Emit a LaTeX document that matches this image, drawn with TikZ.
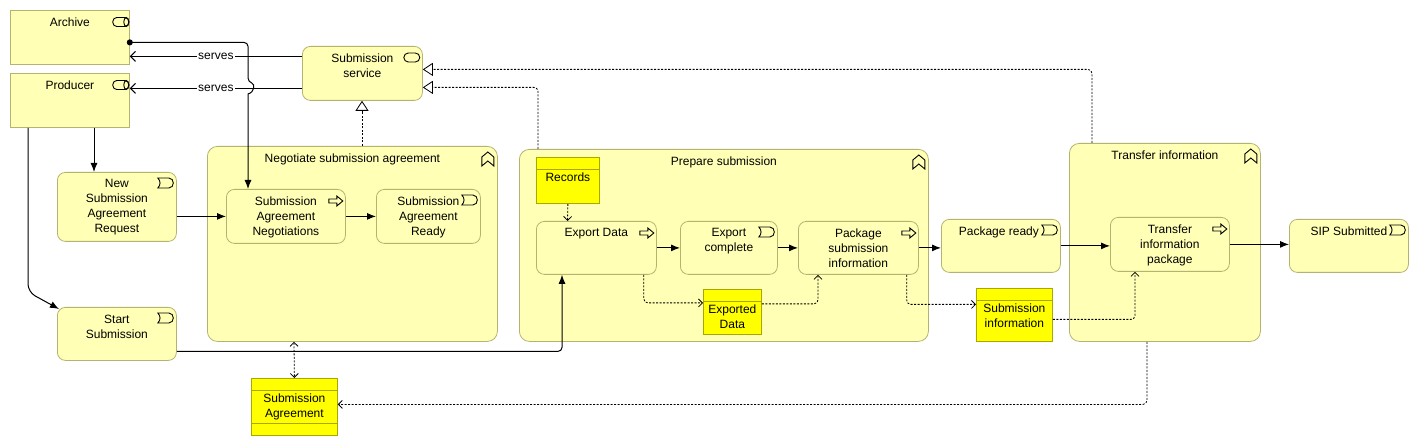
\documentclass[tikz,border=0pt]{standalone}
\usepackage{fontspec}
\setmainfont{Liberation Sans}
\usetikzlibrary{arrows.meta}

\definecolor{bizfill}{RGB}{255,255,181}
\definecolor{bizline}{RGB}{180,180,112}
\definecolor{datafill}{RGB}{255,255,0}
\definecolor{dataline}{RGB}{168,168,0}

\tikzset{
  elem/.style={draw=bizline, fill=bizfill, line width=0.8pt, anchor=north west, inner sep=0pt},
  rolebox/.style={elem},
  roundbox/.style={elem, rounded corners=8pt},
  groupbox/.style={elem, rounded corners=10pt},
  databox/.style={draw=dataline, fill=datafill, line width=0.8pt, anchor=north west, inner sep=0pt},
  lbl/.style={anchor=north, align=center, inner sep=0pt, yshift=-7.5pt, font=\fontsize{12}{15}\selectfont},
  datalbl/.style={lbl, yshift=-8pt},
  servlbl/.style={fill=white, inner sep=1pt, font=\fontsize{12}{14}\selectfont},
  trig/.style={line width=1pt, -{Latex[length=9pt,width=7pt]}},
  serv/.style={line width=1pt, -{Straight Barb[length=5pt,width=10pt]}},
  assign/.style={line width=1pt, {Circle[length=6pt]}-{Latex[length=9pt,width=7pt]}},
  acc/.style={line width=0.8pt, dash pattern=on 2pt off 1.5pt, -{Straight Barb[length=4pt,width=8pt]}},
  real/.style={line width=0.8pt, dash pattern=on 2pt off 1.5pt, -{Triangle[open,length=10pt,width=13pt]}},
  icon/.style={line width=0.9pt, draw=black},
  roleicon/.pic={\draw[icon, rounded corners=4pt] (-8,-4.5) rectangle (8,4.5);
                 \draw[icon] (5.5,0) ellipse (2.5pt and 4.5pt);},
  svcicon/.pic={\draw[icon, rounded corners=4.5pt] (-8,-4.5) rectangle (8,4.5);},
  evicon/.pic={\draw[icon] (-8,-5) -- (3,-5) .. controls (9,-5) and (9,5) .. (3,5) -- (-8,5)
                 .. controls (-5,2) and (-5,-2) .. (-8,-5) -- cycle;},
  procicon/.pic={\draw[icon] (-7,-2) -- (1,-2) -- (1,-5) -- (7,0) -- (1,5) -- (1,2) -- (-7,2) -- cycle;},
  funicon/.pic={\draw[icon] (-6,7) -- (-6,-2) -- (0,-7) -- (6,-2) -- (6,7) -- (0,2) -- cycle;}
}

\begin{document}
\begin{tikzpicture}[x=1pt, y=-1pt]
  \fill[white] (0,0) rectangle (1419,446);
  \useasboundingbox (0,0) rectangle (1419,446);

  % 分组
  \node[groupbox, minimum width=290pt, minimum height=195pt, label={[lbl]north:Negotiate submission agreement}] (neg) at (207,146) {};
  \node[groupbox, minimum width=409pt, minimum height=192pt, label={[lbl]north:Prepare submission}] (prep) at (519,149) {};
  \node[groupbox, minimum width=191pt, minimum height=198pt, label={[lbl]north:Transfer information}] (tra) at (1069,143) {};

  % 角色与服务
  \node[rolebox, minimum width=119pt, minimum height=54pt, label={[lbl]north:Archive}] (arch) at (10,10) {};
  \node[rolebox, minimum width=119pt, minimum height=54pt, label={[lbl]north:Producer}] (prod) at (10,73) {};
  \node[roundbox, minimum width=120pt, minimum height=54pt, label={[lbl]north:Submission\\service}] (svc) at (302,46) {};

  % 事件与过程
  \node[roundbox, minimum width=119pt, minimum height=69pt, label={[lbl]north:New\\Submission\\Agreement\\Request}] (nsar) at (57,172) {};
  \node[roundbox, minimum width=119pt, minimum height=54pt, label={[lbl]north:Submission\\Agreement\\Negotiations}] (san) at (226,189) {};
  \node[roundbox, minimum width=104pt, minimum height=54pt, label={[lbl]north:Submission\\Agreement\\Ready}] (sar) at (376,189) {};
  \node[roundbox, minimum width=119pt, minimum height=53pt, label={[lbl]north:Start\\Submission}] (start) at (57,307) {};
  \node[roundbox, minimum width=120pt, minimum height=53pt, label={[lbl]north:Export Data}] (exp) at (536,221) {};
  \node[roundbox, minimum width=97pt, minimum height=53pt, label={[lbl]north:Export\\complete}] (expc) at (680,221) {};
  \node[roundbox, minimum width=120pt, minimum height=53pt, label={[lbl]north:Package\\submission\\information}] (pkg) at (798,221) {};
  \node[roundbox, minimum width=119pt, minimum height=53pt, label={[lbl, xshift=-2pt]north:Package ready}] (pr) at (941,219) {};
  \node[roundbox, minimum width=119pt, minimum height=54pt, label={[lbl]north:Transfer\\information\\package}] (tpk) at (1110,217) {};
  \node[roundbox, minimum width=119pt, minimum height=53pt, label={[lbl]north:SIP Submitted}] (sip) at (1289,219) {};

  % 数据对象
  \node[databox, minimum width=86pt, minimum height=57pt, label={[datalbl]north:Submission\\Agreement}] (sa) at (251,378) {};
  \node[databox, minimum width=63pt, minimum height=46pt, label={[datalbl]north:Records}] (rec) at (536,157) {};
  \node[databox, minimum width=58pt, minimum height=45pt, label={[datalbl]north:Exported\\Data}] (exd) at (703,289) {};
  \node[databox, minimum width=76pt, minimum height=53pt, label={[datalbl]north:Submission\\information}] (sinf) at (976,288) {};
  \foreach \n in {sa,rec,exd,sinf}
    \draw[dataline, line width=0.8pt] ([yshift=-12pt]\n.north west) -- ([yshift=-12pt]\n.north east);
  \draw[dataline, line width=0.8pt] ([yshift=12pt]sa.south west) -- ([yshift=12pt]sa.south east);

  % 图标
  \foreach \n in {arch,prod}
    \pic at ([shift={(-9,12)}]\n.north east) {roleicon};
  \pic at ([shift={(-11,11.5)}]svc.north east) {svcicon};
  \foreach \n in {nsar,sar,start,expc,pr,sip}
    \pic at ([shift={(-11,11)}]\n.north east) {evicon};
  \foreach \n in {san,exp,pkg,tpk}
    \pic at ([shift={(-10,12)}]\n.north east) {procicon};
  \foreach \n in {neg,prep,tra}
    \pic at ([shift={(-10,13)}]\n.north east) {funicon};

  % 连线
  \draw[serv] ([yshift=17pt]svc.west) -- node[servlbl] (sv1) {serves} ([yshift=-19pt]arch.east);
  \draw[serv] ([yshift=-15pt]svc.west) -- node[servlbl] (sv2) {serves} ([yshift=12pt]prod.east);
  \draw[assign, rounded corners=4pt] ([xshift=-3pt,yshift=-5pt]arch.east) -| (248,82)
    [sharp corners] .. controls (255,84) and (255,92) .. (248,94) -- ([xshift=22pt]san.north west);
  \draw[trig] ([xshift=84pt]prod.south west) -- ([xshift=37pt]nsar.north west);
  \draw[trig, rounded corners=8pt] ([xshift=18pt]prod.south west) -- (28,292) -- ([xshift=2pt,yshift=-2pt]start.north west);
  \draw[trig] ([yshift=-9.5pt]nsar.east) -- (san.west);
  \draw[trig] (san.east) -- (sar.west);
  \draw[trig, rounded corners=4pt] ([yshift=-17.5pt]start.east) -| ([xshift=26pt]exp.south west);
  \draw[trig] (exp.east) -- (expc.west);
  \draw[trig] (expc.east) -- (pkg.west);
  \draw[trig] (pkg.east) -- (pkg.east -| pr.west);
  \draw[trig] (pr.east) -- (pr.east -| tpk.west);
  \draw[trig] (tpk.east) -- (tpk.east -| sip.west);

  \draw[real] ([xshift=155pt]neg.north west) -- ([xshift=60pt]svc.south west);
  \draw[real, rounded corners=4pt] ([xshift=19pt]prep.north west) |- ([yshift=-14pt]svc.east);
  \draw[real, rounded corners=4pt] ([xshift=23pt]tra.north west) |- ([yshift=4pt]svc.east);

  \draw[acc, {Straight Barb[length=4pt,width=8pt]}-{Straight Barb[length=4pt,width=8pt]}] ([xshift=87pt]neg.south west) -- (sa.north);
  \draw[acc, rounded corners=4pt] ([xshift=78pt]tra.south west) |- ([yshift=2.5pt]sa.east);
  \draw[acc] (rec.south) -- ([xshift=31.5pt]exp.north west);
  \draw[acc, rounded corners=4pt] ([xshift=-13pt]exp.south east) |- ([yshift=9pt]exd.west);
  \draw[acc, rounded corners=4pt] ([yshift=8pt]exd.east) -| ([xshift=20pt]pkg.south west);
  \draw[acc, rounded corners=4pt] ([xshift=-12pt]pkg.south east) |- ([yshift=10.5pt]sinf.west);
  \draw[acc, rounded corners=4pt] ([yshift=-4.5pt]sinf.east) -| ([xshift=25pt]tpk.south west);
\end{tikzpicture}
\end{document}
